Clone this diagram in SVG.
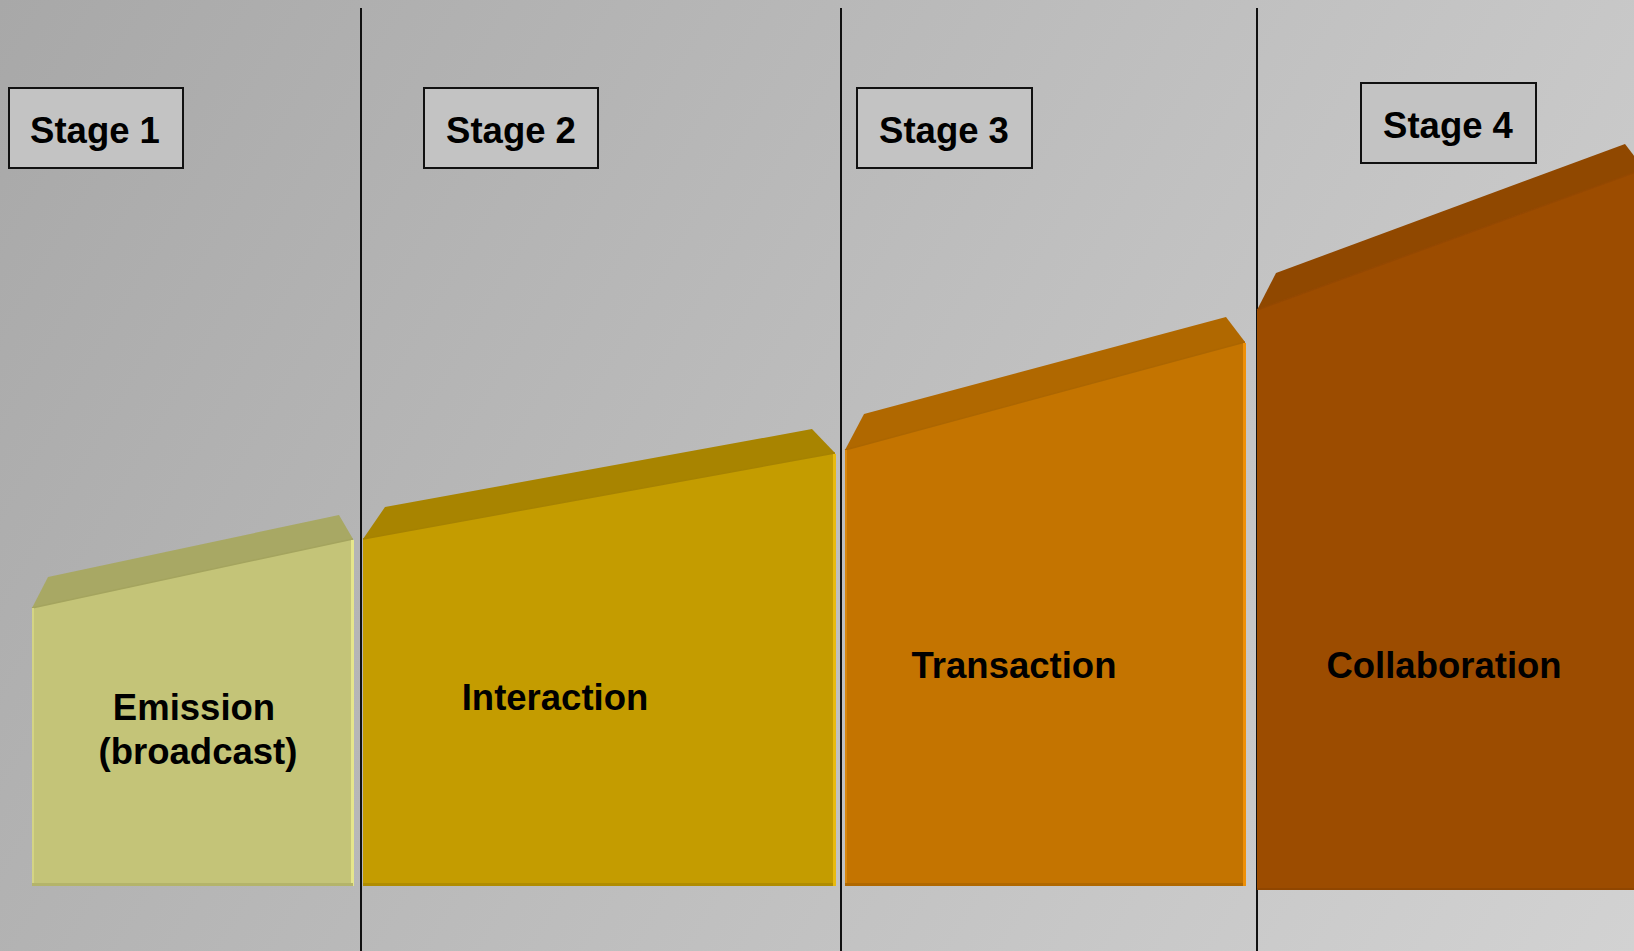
<svg xmlns="http://www.w3.org/2000/svg" width="1634" height="951" viewBox="0 0 1634 951">
  <defs>
    <linearGradient id="bg" x1="0" y1="0" x2="1634" y2="951" gradientUnits="userSpaceOnUse">
      <stop offset="0" stop-color="#a8a8a8"/>
      <stop offset="1" stop-color="#d2d2d2"/>
    </linearGradient>
    <style>
      .stage rect { fill: #c3c3c3; stroke: #111; stroke-width: 2; }
      .stage text, .label { font-family: "Liberation Sans", Arial, sans-serif; font-weight: bold; font-size: 36.5px; fill: #000; text-anchor: middle; }
      .divider { stroke: #111; stroke-width: 2; }
      .edge { stroke-width: 1.5; fill: none; }
    </style>
  </defs>

  <!-- backdrop -->
  <rect x="0" y="0" width="1634" height="951" fill="url(#bg)"/>

  <!-- column dividers -->
  <g id="connectors">
    <line class="divider" x1="361" y1="8" x2="361" y2="951"/>
    <line class="divider" x1="841" y1="8" x2="841" y2="951"/>
    <line class="divider" x1="1257" y1="8" x2="1257" y2="951"/>
  </g>

  <!-- stage headers -->
  <g id="stage1" class="stage">
    <rect x="9" y="88" width="174" height="80"/>
    <text x="95" y="143">Stage 1</text>
  </g>
  <g id="stage2" class="stage">
    <rect x="424" y="88" width="174" height="80"/>
    <text x="511" y="143">Stage 2</text>
  </g>
  <g id="stage3" class="stage">
    <rect x="857" y="88" width="175" height="80"/>
    <text x="944" y="143">Stage 3</text>
  </g>
  <g id="stage4" class="stage">
    <rect x="1361" y="83" width="175" height="80"/>
    <text x="1448" y="138">Stage 4</text>
  </g>

  <!-- block 1: Emission -->
  <g id="block1">
    <polygon points="32,608 48,577 339,515 353,539" fill="#a8a864"/>
    <polygon points="32,608 353,539 353,886 32,886" fill="#c4c478"/>
    <line class="edge" x1="32" y1="608" x2="353" y2="539" stroke="#a4a45e"/>
    <rect x="351" y="540" width="3" height="346" fill="#e6e68c"/>
    <rect x="32" y="608" width="2" height="278" fill="#d4d484"/>
    <rect x="32" y="883" width="321" height="3" fill="#b4b46a"/>
    <text class="label" x="194" y="720">Emission</text>
    <text class="label" x="198" y="764">(broadcast)</text>
  </g>

  <!-- block 2: Interaction -->
  <g id="block2">
    <polygon points="363,539 385,507 812,429 835,453" fill="#a88400"/>
    <polygon points="363,539 835,453 835,886 363,886" fill="#c49c00"/>
    <line class="edge" x1="363" y1="539" x2="835" y2="453" stroke="#a68200"/>
    <rect x="833" y="454" width="3" height="432" fill="#e8ba10"/>
    <rect x="363" y="883" width="470" height="3" fill="#b08c00"/>
    <text class="label" x="555" y="710">Interaction</text>
  </g>

  <!-- block 3: Transaction -->
  <g id="block3">
    <polygon points="845,450 864,414 1226,317 1245,342" fill="#b06800"/>
    <polygon points="845,450 1245,342 1245,886 845,886" fill="#c47400"/>
    <line class="edge" x1="845" y1="450" x2="1245" y2="342" stroke="#ac6600"/>
    <rect x="1243" y="343" width="3" height="543" fill="#ee9008"/>
    <rect x="845" y="450" width="2" height="436" fill="#d8860c"/>
    <rect x="845" y="883" width="398" height="3" fill="#b06800"/>
    <text class="label" x="1014" y="678">Transaction</text>
  </g>

  <!-- block 4: Collaboration -->
  <g id="block4">
    <polygon points="1257,310 1276,273 1625,144 1644,169" fill="#904800"/>
    <polygon points="1257,310 1644,169 1644,890 1257,890" fill="#9c4c00"/>
    <line class="edge" x1="1257" y1="310" x2="1644" y2="169" stroke="#944800"/>
    <rect x="1257" y="888" width="377" height="2" fill="#904600"/>
    <text class="label" x="1444" y="678">Collaboration</text>
  </g>
</svg>
